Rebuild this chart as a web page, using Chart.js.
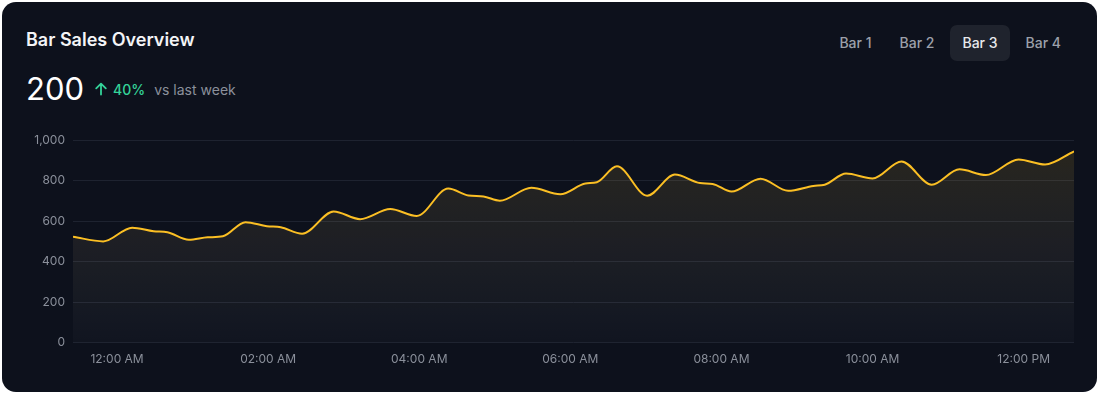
<!DOCTYPE html>
<html>
<head>
<meta charset="utf-8">
<script src="https://cdn.jsdelivr.net/npm/chart.js@4.4.1/dist/chart.umd.min.js"></script>
<style>
  html, body { margin: 0; padding: 0; background: #ffffff; }
  body { width: 1100px; height: 396px; position: relative; font-family: Inter, "Noto Sans", sans-serif; }
  .card { position: absolute; left: 2px; top: 2px; width: 1095px; height: 390px; background: #0d111c; border-radius: 14px; }
  .title { position: absolute; left: 24px; top: 28px; color: #f3f4f6; font-size: 18px; font-weight: 600; line-height: 20px; }
  .stat { position: absolute; left: 24px; top: 69px; display: flex; align-items: center; height: 36px; }
  .stat .big { color: #ffffff; font-size: 31px; line-height: 36px; font-weight: 400; margin-right: 10px; }
  .stat .up { color: #34d399; font-size: 14px; font-weight: 500; display: flex; align-items: center; margin-right: 9px; }
  .stat .up svg { margin-right: 5px; }
  .stat .vs { color: #8b909b; font-size: 14px; }
  .tabs { position: absolute; right: 24px; top: 23px; display: flex; gap: 4px; }
  .tab { height: 36px; line-height: 36px; padding: 0 12px; border-radius: 7px; color: #9ca0aa; font-size: 14px; font-weight: 500; }
  .tab.active { background: #1f232d; color: #e8e9ec; }
  .wrap { position: absolute; left: 26px; top: 125px; width: 1050px; height: 256px; }
</style>
</head>
<body>
<div class="card">
  <div class="title">Bar Sales Overview</div>
  <div class="stat">
    <span class="big">200</span>
    <span class="up"><svg width="14" height="14" viewBox="0 0 14 14"><path d="M7 12.5V1.8M2.2 6.4L7 1.6l4.8 4.8" fill="none" stroke="#34d399" stroke-width="1.8" stroke-linecap="round" stroke-linejoin="round"/></svg>40%</span>
    <span class="vs">vs last week</span>
  </div>
  <div class="tabs">
    <div class="tab">Bar 1</div>
    <div class="tab">Bar 2</div>
    <div class="tab active">Bar 3</div>
    <div class="tab">Bar 4</div>
  </div>
</div>
<div class="wrap"><canvas id="salesChart"></canvas></div>
<script>
// minutes from midnight, and sales at each point
const times = [-35, -11, 12, 29, 40, 57, 72, 84, 102, 119, 130, 147, 172, 193, 217, 238, 263, 279, 291, 304,
  329, 352, 372, 381, 397, 421, 443, 463, 473, 488, 511, 533, 553, 562, 579, 600, 623, 647, 669, 690,
  716, 737, 760];
const sales = [523, 500, 568, 550, 545, 508, 520, 525, 595, 575, 570, 538, 648, 610, 660, 626, 761, 727, 722, 701,
  765, 733, 786, 792, 871, 726, 830, 788, 784, 746, 810, 750, 774, 780, 835, 811, 895, 780, 856, 828,
  905, 880, 945];

const tickTimes = [0, 120, 240, 360, 480, 600, 720];
const tickLabels = ['12:00 AM', '02:00 AM', '04:00 AM', '06:00 AM', '08:00 AM', '10:00 AM', '12:00 PM'];

const axisFont = { family: 'Inter', size: 12 };

new Chart(document.getElementById('salesChart'), {
  type: 'line',
  data: {
    datasets: [{
      data: times.map((t, i) => ({ x: t, y: sales[i] })),
      borderColor: '#fbbf24',
      borderWidth: 2,
      pointRadius: 0,
      cubicInterpolationMode: 'monotone',
      fill: 'origin',
      backgroundColor: (ctx) => {
        const area = ctx.chart.chartArea;
        if (!area) return 'transparent';
        const g = ctx.chart.ctx.createLinearGradient(0, area.top, 0, area.bottom);
        g.addColorStop(0, 'rgba(251, 191, 36, 0.12)');
        g.addColorStop(1, 'rgba(255, 255, 255, 0.02)');
        return g;
      }
    }]
  },
  options: {
    responsive: true,
    maintainAspectRatio: false,
    animation: false,
    layout: { padding: { top: 10, right: 2, bottom: 4 } },
    plugins: { legend: { display: false }, tooltip: { enabled: false } },
    scales: {
      x: {
        type: 'linear',
        min: times[0],
        max: times[times.length - 1],
        grid: { display: false, drawTicks: false },
        border: { display: false },
        afterBuildTicks: (axis) => { axis.ticks = tickTimes.map(v => ({ value: v })); },
        ticks: {
          autoSkip: false,
          maxRotation: 0,
          padding: 10,
          color: '#8b909b',
          font: axisFont,
          callback: (v) => tickLabels[tickTimes.indexOf(v)]
        }
      },
      y: {
        min: 0,
        max: 1000,
        afterFit: (axis) => { axis.width = 47; },
        grid: { color: '#1e2330', drawTicks: false },
        border: { display: false },
        ticks: { stepSize: 200, padding: 8, color: '#8b909b', font: axisFont }
      }
    }
  }
});
</script>
</body>
</html>
